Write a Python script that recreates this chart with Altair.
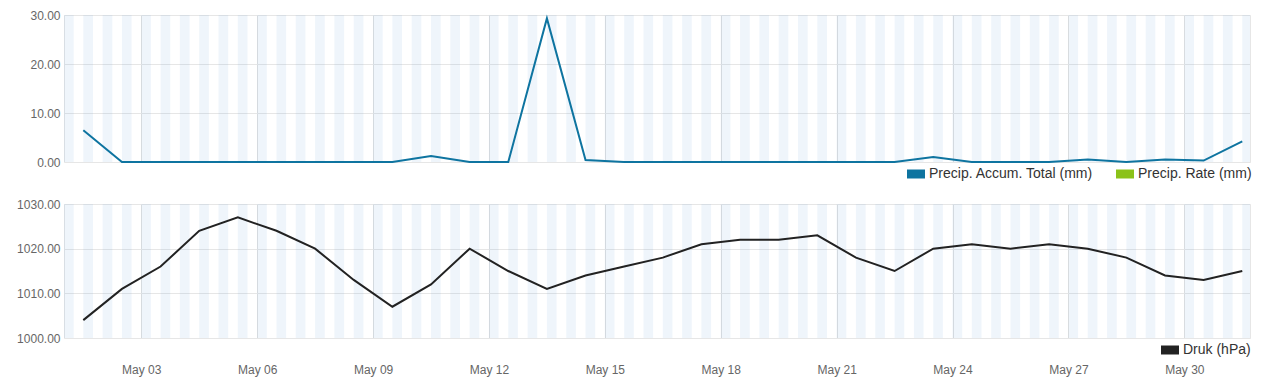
import altair as alt
import pandas as pd

# ---- data ----
days = list(range(1, 32))
precip_total = [6.5, 0, 0, 0, 0, 0, 0, 0, 0, 1.2, 0, 0, 29.3, 0.4, 0, 0, 0, 0, 0, 0,
                0, 0, 1.0, 0, 0, 0, 0.5, 0, 0.5, 0.3, 4.2]
pressure = [1004, 1011, 1016, 1024, 1027, 1024, 1020, 1013, 1007, 1012, 1020, 1015,
            1011, 1014, 1016, 1018, 1021, 1022, 1022, 1023, 1018, 1015, 1020, 1021,
            1020, 1021, 1020, 1018, 1014, 1013, 1015]
precip_series = ["Precip. Accum. Total (mm)", "Precip. Rate (mm)"]
precip_colors = ["#0e74a0", "#8bc219"]
pressure_series = ["Druk (hPa)"]
pressure_colors = ["#222222"]
tick_days = [3, 6, 9, 12, 15, 18, 21, 24, 27, 30]
precip_ticks = [0, 10, 20, 30]
pressure_ticks = [1000, 1010, 1020, 1030]

times = [f"2024-05-{d:02d}T12:00:00Z" for d in days]
df_p = pd.DataFrame({"t": times, "v": precip_total, "series": precip_series[0]})
df_b = pd.DataFrame({"t": times, "v": pressure, "series": pressure_series[0]})

# background stripes (00-06h and 12-18h each day)
starts = []
ends = []
for d in days:
    for h in (0, 12):
        starts.append(f"2024-05-{d:02d}T{h:02d}:00:00Z")
        ends.append(f"2024-05-{d:02d}T{h + 6:02d}:00:00Z")
df_s = pd.DataFrame({"start": starts, "end": ends})

FONT = "Liberation Sans"
W = 1186
xscale = alt.Scale(type="utc", domain=[alt.DateTime(year=2024, month=5, date=1, hours=0, utc=True),
                                       alt.DateTime(year=2024, month=5, date=31, hours=16, minutes=48, utc=True)])
tick_vals = [alt.DateTime(year=2024, month=5, date=d, utc=True) for d in tick_days]


def xaxis(show_labels):
    return alt.Axis(values=tick_vals, format="%b %d", labels=show_labels, ticks=False, tickSize=0,
                    domain=False, grid=True, gridColor="#e0e0e0", labelPadding=26, labelAngle=0,
                    title=None, labelFont=FONT, labelFontSize=12, labelColor="#666666")


def yaxis(vals):
    return alt.Axis(values=vals, format=".2f", grid=True, gridColor="#e6e6e6", domain=False,
                    ticks=False, labelPadding=4, minExtent=55, maxExtent=55, title=None,
                    labelFont=FONT, labelFontSize=12, labelColor="#666666")


def legend(x, y):
    return alt.Legend(title=None, orient="none", legendX=x, legendY=y, direction="horizontal",
                      symbolType="M-1,-0.5H1V0.5H-1Z", symbolSize=324, symbolOpacity=1,
                      symbolStrokeWidth=0, labelFontSize=14, labelColor="#333333",
                      labelFont=FONT, labelLimit=400, columnPadding=22, labelOffset=4)


def panel(df, height, ydomain, yticks, series, colors, line_color, show_labels, lx, ly):
    stripes = alt.Chart(df_s).mark_rect(color="#6fa8dc", opacity=0.11, clip=True).encode(
        x=alt.X("start:T", scale=xscale, axis=xaxis(show_labels)),
        x2="end:T",
    )
    line = alt.Chart(df).mark_line(strokeWidth=2, color=line_color).encode(
        x=alt.X("t:T", scale=xscale),
        y=alt.Y("v:Q", scale=alt.Scale(domain=ydomain, nice=False, zero=False), axis=yaxis(yticks)),
    )
    leg = alt.Chart(df).mark_point(filled=True, opacity=0).encode(
        x=alt.X("t:T", scale=xscale),
        y=alt.Y("v:Q"),
        color=alt.Color("series:N", scale=alt.Scale(domain=series, range=colors), legend=legend(lx, ly)),
    )
    return alt.layer(stripes, line, leg).properties(width=W, height=height)


top = panel(df_p, 147, [0, 30], precip_ticks, precip_series, precip_colors, precip_colors[0], False, 843, 150)
bottom = panel(df_b, 134, [1000, 1030], pressure_ticks, pressure_series, pressure_colors, pressure_colors[0], True, 1097, 137)

chart = alt.vconcat(top, bottom, spacing=42, bounds="flush").resolve_scale(
    color="independent", y="independent"
).resolve_legend(color="independent").properties(
    padding={"left": 0, "top": 0, "right": 5, "bottom": 5}
).configure_view(stroke="#e6e6e6", strokeWidth=1)

chart.save("out.html", embed_options={"renderer": "svg", "actions": False})
